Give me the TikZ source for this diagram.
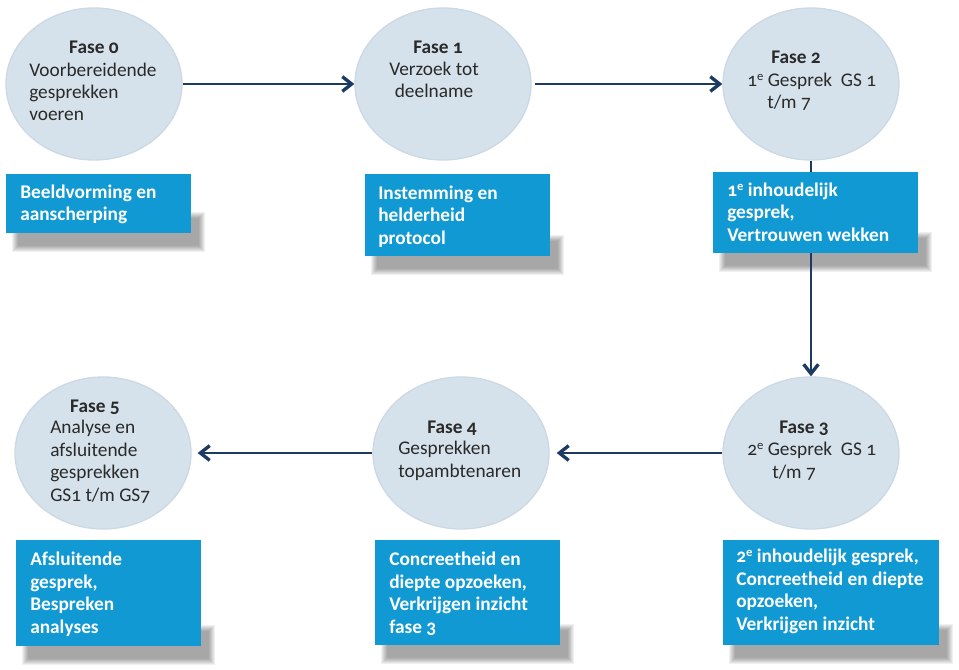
\documentclass[tikz,border=0pt]{standalone}
\usepackage{fontspec}
\setmainfont{Carlito}[Numbers=OldStyle]
\usetikzlibrary{arrows.meta,shapes.geometric,calc}
\pgfdeclarelayer{bg}\pgfdeclarelayer{mid}\pgfsetlayers{bg,mid,main}
\definecolor{circfill}{HTML}{D6E2EB}
\definecolor{circedge}{HTML}{CCD9E4}
\definecolor{boxblue}{HTML}{1199D4}
\definecolor{arrowc}{HTML}{1D3B62}
\definecolor{txt}{HTML}{2A2A2A}
\newcommand\supe{\raisebox{0.62ex}{\fontsize{9.5}{9.5}\selectfont e}}
\begin{document}
\begin{tikzpicture}[x=0.75pt,y=-0.75pt,
 phase/.style={ellipse, fill=circfill, draw=circedge, line width=1pt, minimum width=132pt, minimum height=114pt, inner sep=0pt},
 bluebox/.style={fill=boxblue, anchor=north west, inner sep=0pt},
 ctext/.style={font=\fontsize{14.5}{16.8}\selectfont, text=txt, inner sep=0pt, anchor=base west, align=left},
 ttl/.style={font=\fontsize{14.5}{16.8}\selectfont\bfseries, text=txt, inner sep=0pt, anchor=base},
 btext/.style={font=\fontsize{14.5}{16.8}\selectfont\bfseries, text=white, inner sep=0pt, anchor=base west, align=left},
 arr/.style={draw=arrowc, line width=1.5pt, -{Straight Barb[length=7pt,width=11pt,line width=2.5pt]}}
]
\useasboundingbox (0,0) rectangle (959,670);

% phases
\node[phase] (f0) at (94,84) {};
\node[phase] (f1) at (443,84) {};
\node[phase] (f2) at (811,84) {};
\node[phase] (f3) at (811,453) {};
\node[phase] (f4) at (461,453) {};
\node[phase] (f5) at (103,453) {};

% boxes
\node[bluebox, minimum width=185*0.75pt, minimum height=59*0.75pt] (b0) at (6,174) {};
\node[bluebox, minimum width=185*0.75pt, minimum height=82*0.75pt] (b1) at (365,174) {};
\node[bluebox, minimum width=205*0.75pt, minimum height=81*0.75pt] (b2) at (713,172) {};
\node[bluebox, minimum width=216*0.75pt, minimum height=105*0.75pt] (b3) at (723,540) {};
\node[bluebox, minimum width=185*0.75pt, minimum height=105*0.75pt] (b4) at (375,540) {};
\node[bluebox, minimum width=185*0.75pt, minimum height=106*0.75pt] (b5) at (16,540) {};

% phase texts (anchor = baseline of last line)
\node[ttl] (t0) at (94,54) {Fase 0};
\node[ctext] (c0) at (29,121) {Voorbereidende\\gesprekken\\voeren};
\node[ttl] (t1) at (438,54) {Fase 1};
\node[ctext, align=center, anchor=base] (c1) at (434,98) {Verzoek tot\\deelname};
\node[ttl] (t2) at (796,64) {Fase 2};
\node[ctext] (c2) at (747,109) {1\supe\ Gesprek\ \ GS 1\\\hspace*{15pt}t/m 7};
\node[ttl] (t3) at (804,433) {Fase 3};
\node[ctext] (c3) at (747,478) {2\supe\ Gesprek\ \ GS 1\\\hspace*{18.75pt}t/m 7};
\node[ttl] (t4) at (452,433) {Fase 4};
\node[ctext] (c4) at (398,477) {Gesprekken\\topambtenaren};
\node[ttl] (t5) at (95,412) {Fase 5};
\node[ctext] (c5) at (50,501) {Analyse en\\afsluitende\\gesprekken\\GS1 t/m GS7};

% box texts
\node[btext] (x0) at (20,221) {Beeldvorming en\\aanscherping};
\node[btext] (x1) at (378,244) {Instemming en\\helderheid\\protocol};
\node[btext] (x2) at (727,241) {1\supe\ inhoudelijk\\gesprek,\\Vertrouwen wekken};
\node[btext] (x3) at (736,630) {2\supe\ inhoudelijk gesprek,\\Concreetheid en diepte\\opzoeken,\\Verkrijgen inzicht};
\node[btext] (x4) at (389,633) {Concreetheid en\\diepte opzoeken,\\Verkrijgen inzicht\\fase 3};
\node[btext] (x5) at (30,633) {Afsluitende\\gesprek,\\Bespreken\\analyses};

% shadows
\begin{pgfonlayer}{bg}
\foreach \b in {b0,b1,b2,b3,b4,b5} {
  \foreach \i in {0,...,6} {
    \fill[black, opacity=0.06] ($(\b.south west)+(6+\i,-22+\i)$) rectangle ($(\b.south east)+(13-\i,18-\i)$);
  }
}
\end{pgfonlayer}

% connectors
\begin{pgfonlayer}{mid}
\draw[arr] (f0) -- (f1);
\draw[arr, shorten <=2.25pt] (f1) -- (f2);
\draw[arr] (f2) -- (f3);
\draw[arr, shorten >=5.25pt] (f3) -- (f4);
\draw[arr, shorten >=4.5pt] (f4) -- (f5);
\end{pgfonlayer}
\end{tikzpicture}
\end{document}
